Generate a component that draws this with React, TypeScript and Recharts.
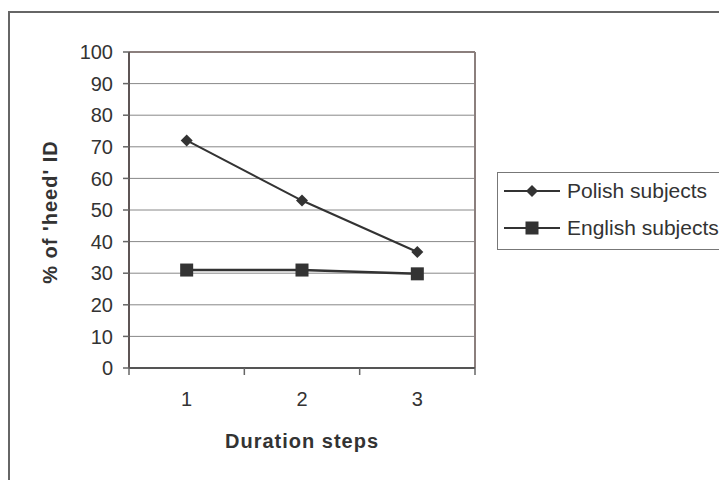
import React from 'react';
import { LineChart, Line, XAxis, YAxis, CartesianGrid, ReferenceLine, Label } from 'recharts';

const steps = [1, 2, 3];
const polishSubjects = [72, 53, 36.7];
const englishSubjects = [31, 31, 29.8];
const yTicks = [0, 10, 20, 30, 40, 50, 60, 70, 80, 90, 100];
const xTicks = [0.5, 1, 1.5, 2, 2.5, 3, 3.5];

const data = steps.map((s, i) => ({
    step: s,
    polish: polishSubjects[i],
    english: englishSubjects[i],
}));

const FONT = '"Liberation Sans", Arial, sans-serif';
const INK = '#333333';

const Diamond = (props: any) => {
    const { cx, cy, index } = props;
    if (cx == null || cy == null) return <g key={`d-${index}`} />;
    const r = 6;
    return (
        <path
            key={`d-${index}`}
            d={`M${cx},${cy - r} L${cx + r},${cy} L${cx},${cy + r} L${cx - r},${cy} Z`}
            fill={INK}
        />
    );
};

const Square = (props: any) => {
    const { cx, cy, index } = props;
    if (cx == null || cy == null) return <g key={`s-${index}`} />;
    const h = 6.5;
    return <rect key={`s-${index}`} x={cx - h} y={cy - h} width={h * 2} height={h * 2} fill={INK} />;
};

// tick marks sit between categories, labels at the category centres
const StepTick = (props: any) => {
    const { x, y, payload } = props;
    const v = payload.value;
    if (v % 1 !== 0) {
        return <line x1={x} y1={y} x2={x} y2={y + 7} stroke="#666" strokeWidth={1.5} />;
    }
    return (
        <text x={x} y={y + 38} textAnchor="middle" fontSize={20} fill={INK} fontFamily={FONT}>
            {v}
        </text>
    );
};

const legendItems = [
    { name: 'Polish subjects', marker: 'diamond', top: 6 },
    { name: 'English subjects', marker: 'square', top: 43 },
];

const LegendBox = () => (
    <div
        style={{
            position: 'absolute',
            left: 497,
            top: 172,
            border: '1.5px solid #777',
            background: '#fff',
            width: 240,
            height: 78,
            boxSizing: 'border-box',
            fontFamily: FONT,
            fontSize: 21,
            color: INK,
        }}
    >
        {legendItems.map((item) => (
            <div key={item.name} style={{ position: 'absolute', left: 6, top: item.top, display: 'flex', alignItems: 'center', height: 24 }}>
                <svg width={56} height={20} style={{ marginRight: 7 }}>
                    <line x1={0} y1={10} x2={56} y2={10} stroke={INK} strokeWidth={2} />
                    {item.marker === 'diamond' ? (
                        <path d="M28,4 L34,10 L28,16 L22,10 Z" fill={INK} />
                    ) : (
                        <rect x={21.5} y={3.5} width={13} height={13} fill={INK} />
                    )}
                </svg>
                <span style={{ whiteSpace: 'nowrap' }}>{item.name}</span>
            </div>
        ))}
    </div>
);

const YTitle = (props: any) => {
    const { viewBox } = props;
    const cx = viewBox.x + 50;
    const cy = viewBox.y + viewBox.height / 2 + 2;
    return (
        <text
            x={cx}
            y={cy}
            transform={`rotate(-90, ${cx}, ${cy})`}
            textAnchor="middle"
            dominantBaseline="central"
            fontSize={20}
            fontWeight="bold"
            letterSpacing={1}
            fill={INK}
            fontFamily={FONT}
        >
            % of 'heed' ID
        </text>
    );
};

const XTitle = (props: any) => {
    const { viewBox } = props;
    const cx = viewBox.x + viewBox.width / 2;
    return (
        <text
            x={cx}
            y={viewBox.y + 80}
            textAnchor="middle"
            fontSize={20}
            fontWeight="bold"
            letterSpacing={1}
            fill={INK}
            fontFamily={FONT}
        >
            Duration steps
        </text>
    );
};

export default function App() {
    return (
        <div
            style={{
                position: 'relative',
                marginTop: -8,
                marginLeft: -8,
                width: 727,
                height: 480,
                overflow: 'hidden',
                background: '#fff',
                fontFamily: FONT,
            }}
        >
            <div
                style={{
                    position: 'absolute',
                    left: 8,
                    top: 11,
                    width: 800,
                    height: 600,
                    border: '2px solid #666',
                }}
            />
            <div style={{ position: 'absolute', left: 0, top: 0 }}>
                <LineChart width={727} height={480} data={data} margin={{ top: 52, right: 252, bottom: 0, left: 0 }}>
                    <CartesianGrid vertical={false} stroke="#888" strokeWidth={1} />
                    <XAxis
                        dataKey="step"
                        type="number"
                        domain={[0.5, 3.5]}
                        ticks={xTicks}
                        interval={0}
                        height={112}
                        tickSize={0}
                        tickMargin={0}
                        tickLine={false}
                        tick={<StepTick />}
                        axisLine={{ stroke: '#555', strokeWidth: 2 }}
                    >
                        <Label content={<XTitle />} />
                    </XAxis>
                    <YAxis
                        width={129}
                        domain={[0, 100]}
                        ticks={yTicks}
                        interval={0}
                        tickSize={6}
                        tickMargin={10}
                        tick={{ fontSize: 20, fill: INK, fontFamily: FONT }}
                        tickLine={{ stroke: '#666', strokeWidth: 1.5 }}
                        axisLine={{ stroke: '#5e5555', strokeWidth: 2 }}
                    >
                        <Label content={<YTitle />} />
                    </YAxis>
                    <ReferenceLine y={100} stroke="#8b7f7d" strokeWidth={2} />
                    <ReferenceLine x={3.5} stroke="#8b7f7d" strokeWidth={2} />
                    <Line
                        dataKey="polish"
                        name="Polish subjects"
                        stroke={INK}
                        strokeWidth={2}
                        dot={Diamond}
                        activeDot={false}
                        isAnimationActive={false}
                    />
                    <Line
                        dataKey="english"
                        name="English subjects"
                        stroke={INK}
                        strokeWidth={2.5}
                        dot={Square}
                        activeDot={false}
                        isAnimationActive={false}
                    />
                </LineChart>
            </div>
            <LegendBox />
        </div>
    );
}
